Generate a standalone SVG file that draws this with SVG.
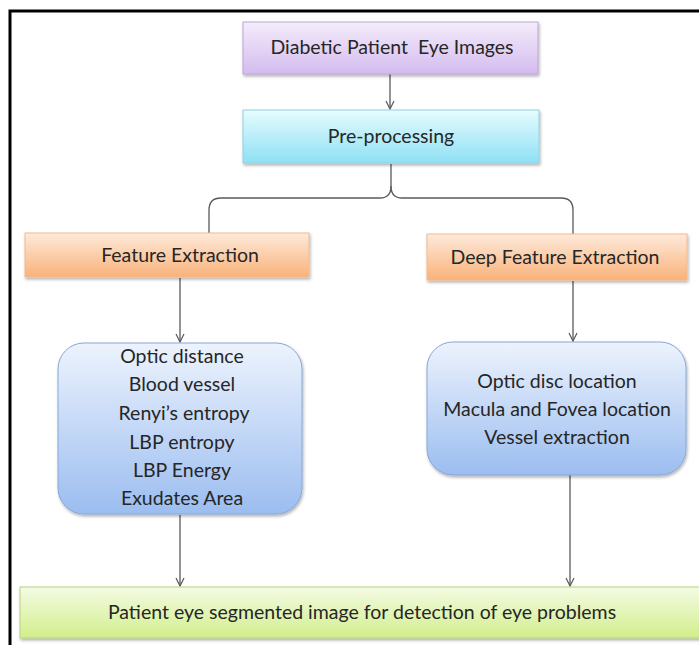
<svg xmlns="http://www.w3.org/2000/svg" width="699" height="645" viewBox="0 0 699 645">
<defs>
<linearGradient id="gPurple" x1="0" y1="0" x2="0" y2="1"><stop offset="0" stop-color="#f4ecfb"/><stop offset="1" stop-color="#d4bcef"/></linearGradient>
<linearGradient id="gCyan" x1="0" y1="0" x2="0" y2="1"><stop offset="0" stop-color="#e6fcfe"/><stop offset="1" stop-color="#8ee0f4"/></linearGradient>
<linearGradient id="gOrange" x1="0" y1="0" x2="0" y2="1"><stop offset="0" stop-color="#feeadb"/><stop offset="1" stop-color="#f9b27a"/></linearGradient>
<linearGradient id="gBlue" x1="0" y1="0" x2="0" y2="1"><stop offset="0" stop-color="#edf3fd"/><stop offset="1" stop-color="#9bbdf0"/></linearGradient>
<linearGradient id="gGreen" x1="0" y1="0" x2="0" y2="1"><stop offset="0" stop-color="#f4fbe3"/><stop offset="1" stop-color="#d2ee8c"/></linearGradient>
<filter id="sh" x="-10%" y="-10%" width="120%" height="130%"><feDropShadow dx="1" dy="2" stdDeviation="1.5" flood-color="#000" flood-opacity="0.3"/></filter>
<marker id="arr" viewBox="0 0 10 10" refX="9" refY="5" markerWidth="10" markerHeight="10" markerUnits="userSpaceOnUse" orient="auto"><path d="M1,1 L9,5 L1,9" fill="none" stroke="#595959" stroke-width="1.2"/></marker>
</defs>
<style>
text{font-family:Lato,"Liberation Sans",sans-serif;font-size:19.5px;fill:#262626;text-anchor:middle;white-space:pre}
.con{fill:none;stroke:#595959;stroke-width:1.3}
</style>
<g id="frame" stroke="#000" stroke-width="3" fill="none"><path d="M10,645 L10,11 L699,11"/></g>
<g id="connectors">
<path class="con" d="M390,74 L390,109" marker-end="url(#arr)"/>
<path class="con" d="M391,164 L391,186 Q391,198 380,198 L221,198 Q209,198 209,210 L209,233"/>
<path class="con" d="M391,186 Q391,198 402,198 L561,198 Q573,198 573,210 L573,234"/>
<path class="con" d="M180,278 L180,342" marker-end="url(#arr)"/>
<path class="con" d="M573,281 L573,341" marker-end="url(#arr)"/>
<path class="con" d="M180,515 L180,586" marker-end="url(#arr)"/>
<path class="con" d="M570,475 L570,586" marker-end="url(#arr)"/>
</g>
<g id="n1"><rect x="243" y="22" width="295" height="52" fill="url(#gPurple)" stroke="#bba6d3" filter="url(#sh)"/><text x="392" y="54">Diabetic Patient  Eye Images</text></g>
<g id="n2"><rect x="243" y="110" width="296" height="53" fill="url(#gCyan)" stroke="#93cfe0" filter="url(#sh)"/><text x="391" y="143">Pre-processing</text></g>
<g id="n3"><rect x="25" y="233" width="284" height="44" fill="url(#gOrange)" stroke="#f3b98c" filter="url(#sh)"/><text x="180" y="262">Feature Extraction</text></g>
<g id="n4"><rect x="427" y="234" width="260" height="46" fill="url(#gOrange)" stroke="#f3b98c" filter="url(#sh)"/><text x="555" y="264">Deep Feature Extraction</text></g>
<g id="n5"><rect x="58" y="343" width="244" height="171" rx="26" fill="url(#gBlue)" stroke="#86a7d8" filter="url(#sh)"/>
<text x="182" y="363">Optic distance</text>
<text x="182" y="391">Blood vessel</text>
<text x="184" y="420">Renyi’s entropy</text>
<text x="182" y="449">LBP entropy</text>
<text x="182" y="477">LBP Energy</text>
<text x="182" y="505">Exudates Area</text></g>
<g id="n6"><rect x="427" y="342" width="259" height="133" rx="26" fill="url(#gBlue)" stroke="#86a7d8" filter="url(#sh)"/>
<text x="557" y="388">Optic disc location</text>
<text x="557" y="416">Macula and Fovea location</text>
<text x="557" y="444">Vessel extraction</text></g>
<g id="n7"><rect x="20" y="587" width="690" height="51" fill="url(#gGreen)" stroke="#b7d27a" filter="url(#sh)"/><text x="362" y="619">Patient eye segmented image for detection of eye problems</text></g>
</svg>
